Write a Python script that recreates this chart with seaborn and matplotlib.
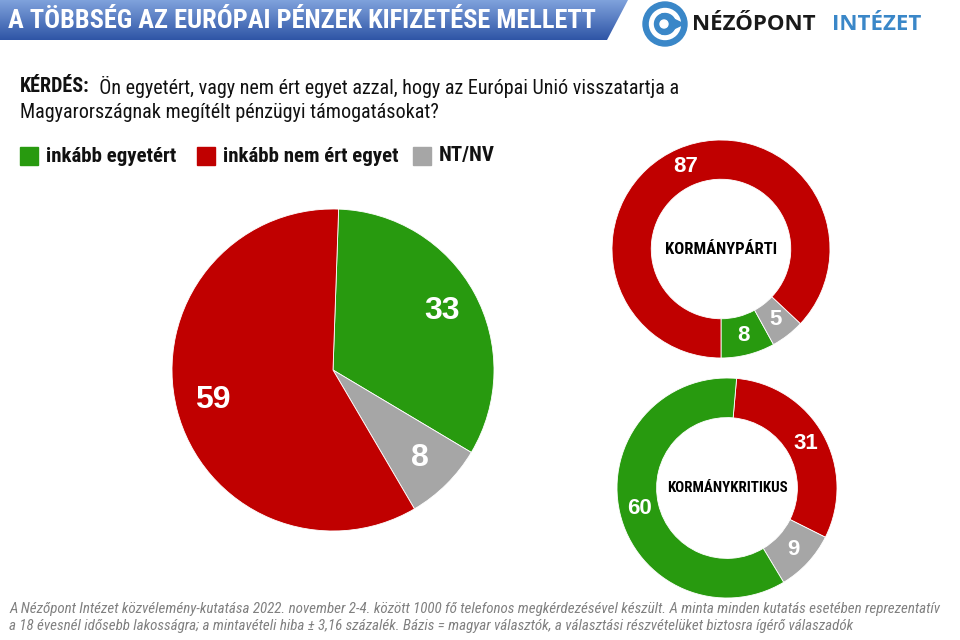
import numpy as np
import matplotlib
matplotlib.use('Agg')
import matplotlib.pyplot as plt
import seaborn as sns
from matplotlib.patches import Rectangle, Circle, Polygon

# data
categories = ['inkább egyetért', 'inkább nem ért egyet', 'NT/NV']
overall = [33, 8, 59]          # green, gray, red (clockwise from top)
kormanyparti = [8, 5, 87]      # green, gray, red (counter-clockwise from bottom)
kormanykritikus = [31, 9, 60]  # red, gray, green (clockwise from top)

title = 'A TÖBBSÉG AZ EURÓPAI PÉNZEK KIFIZETÉSE MELLETT'
question_bold = 'KÉRDÉS:'
question_1 = 'Ön egyetért, vagy nem ért egyet azzal, hogy az Európai Unió visszatartja a'
question_2 = 'Magyarországnak megítélt pénzügyi támogatásokat?'
footer_1 = ('A Nézőpont Intézet közvélemény-kutatása 2022. november 2-4. között 1000 fő telefonos '
            'megkérdezésével készült. A minta minden kutatás esetében reprezentatív')
footer_2 = ('a 18 évesnél idősebb lakosságra; a mintavételi hiba ± 3,16 százalék. Bázis = magyar '
            'választók, a választási részvételüket biztosra ígérő válaszadók')

sns.set_theme(style='white')
narrow = ['Roboto Condensed', 'Liberation Sans', 'DejaVu Sans']
plt.rcParams['font.family'] = narrow

green, red, gray = '#289a0f', '#c00000', '#a6a6a6'
pal = sns.color_palette([green, red, gray])

fig = plt.figure(figsize=(9.6, 6.4), dpi=100)
W, H = 960, 640

# background axes in pixel coordinates
bg = fig.add_axes([0, 0, 1, 1])
bg.set_xlim(0, W)
bg.set_ylim(H, 0)
bg.axis('off')

# title bar with gradient
grad = np.linspace(0, 1, 100).reshape(-1, 1)
cmap = matplotlib.colors.LinearSegmentedColormap.from_list('t', ['#7fa2dc', '#2f55a6'])
im = bg.imshow(grad, cmap=cmap, extent=(0, 630, 40, 0), aspect='auto', zorder=1)
clip = Polygon([(0, 0), (628, 0), (607, 40), (0, 40)], closed=True, transform=bg.transData)
im.set_clip_path(clip)
bg.text(8, 21, title, color='white', fontsize=19, fontweight='bold', va='center', ha='left', zorder=2)

# logo
logo_blue = '#3a87c8'
bg.add_patch(Circle((665, 24), 22, color=logo_blue, zorder=2))
bg.add_patch(Circle((665, 24), 15.5, color='white', zorder=3))
bg.add_patch(Circle((665, 24), 10.5, color=logo_blue, zorder=4))
bg.add_patch(Polygon([(662, 13.5), (684, 24), (662, 34.5)], closed=True, color=logo_blue, zorder=4))
bg.add_patch(Circle((664, 24), 4, color='white', zorder=5))
bg.text(692, 24, 'NÉZŐPONT', fontsize=16, fontweight='bold', color='#1a1a1a',
        family=['Open Sans', 'DejaVu Sans'], va='center', ha='left')
bg.text(832, 24, 'INTÉZET', fontsize=16, fontweight='bold', color=logo_blue,
        family=['Open Sans', 'DejaVu Sans'], va='center', ha='left')

# question
t = bg.text(20, 87, question_bold, fontsize=14.5, fontweight='bold', color='#111111', va='center')
bg.annotate('  ' + question_1, xycoords=t, xy=(1, 0.5), va='center', fontsize=14.5, color='#111111',
            family=narrow)
bg.text(20, 112, question_2, fontsize=14.5, color='#111111', va='center')

# legend
leg_x = [20, 197, 413]
for x, lab, col in zip(leg_x, categories, pal):
    bg.add_patch(Rectangle((x, 147), 18, 18, color=col))
    bg.text(x + 26, 156, lab, fontsize=15, fontweight='bold', color='#111111', va='center')

# footer
bg.text(9, 609, footer_1, fontsize=10.8, style='italic', color='#808080', va='center')
bg.text(9, 626, footer_2, fontsize=10.8, style='italic', color='#808080', va='center')


def pie_axes(cx, cy, r):
    ax = fig.add_axes([(cx - r) / W, (H - cy - r) / H, 2 * r / W, 2 * r / H])
    ax.axis('off')
    return ax


def fmt(p):
    return f'{p:.0f}'


# main pie
ax = pie_axes(333, 370, 161)
ax.pie(overall, colors=[pal[0], pal[2], pal[1]], startangle=88, counterclock=False,
       autopct=fmt, pctdistance=0.77, radius=1,
       wedgeprops=dict(edgecolor='white', linewidth=0.6),
       textprops=dict(color='white', fontsize=23, fontweight='bold',
                      family=['Liberation Sans', 'DejaVu Sans']))
ax.set_xlim(-1, 1)
ax.set_ylim(-1, 1)

# donut 1 - kormánypárti
ax1 = pie_axes(721, 249, 109)
ax1.pie(kormanyparti, colors=[pal[0], pal[2], pal[1]], startangle=-90, counterclock=True,
        autopct=fmt, pctdistance=0.82, radius=1,
        wedgeprops=dict(width=0.36, edgecolor='white', linewidth=0.6),
        textprops=dict(color='white', fontsize=16, fontweight='bold',
                       family=['Liberation Sans', 'DejaVu Sans']))
ax1.text(0, 0, 'KORMÁNYPÁRTI', ha='center', va='center', fontsize=12, fontweight='bold', color='black')
ax1.set_xlim(-1, 1)
ax1.set_ylim(-1, 1)

# donut 2 - kormánykritikus
ax2 = pie_axes(727, 488, 110)
ax2.pie(kormanykritikus, colors=[pal[1], pal[2], pal[0]], startangle=85, counterclock=False,
        autopct=fmt, pctdistance=0.82, radius=1,
        wedgeprops=dict(width=0.36, edgecolor='white', linewidth=0.6),
        textprops=dict(color='white', fontsize=16, fontweight='bold',
                       family=['Liberation Sans', 'DejaVu Sans']))
ax2.text(0, 0, 'KORMÁNYKRITIKUS', ha='center', va='center', fontsize=10.8, fontweight='bold', color='black')
ax2.set_xlim(-1, 1)
ax2.set_ylim(-1, 1)

fig.savefig('out.png', dpi=100)
